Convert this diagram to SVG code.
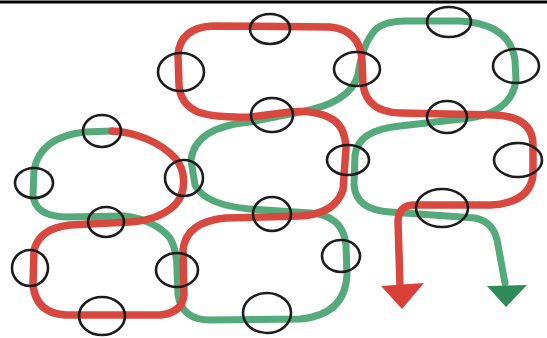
<svg xmlns="http://www.w3.org/2000/svg" width="547" height="338" viewBox="0 0 547 338">
<style>
.red{fill:none;stroke:#d9483f;stroke-width:7.5;stroke-linecap:round;stroke-linejoin:round}
.green{fill:none;stroke:#54aa7a;stroke-width:7;stroke-linecap:round;stroke-linejoin:round}
.ring{fill:none;stroke:#1c1c1c;stroke-width:2.6}
</style>
<rect width="547" height="338" fill="#ffffff"/>
<line x1="0" y1="2" x2="547" y2="2" stroke="#000" stroke-width="3"/>
<g id="connectors">
<path class="green" d="M112,131 L85,132 Q40,137 34,170 L33,195 Q35,216 65,217 L125,216 Q155,220 170,238 Q177,250 177,270 L178,295 Q182,320 210,320 L300,319 Q345,315 347,275 L346,245 Q343,215 310,213 L250,209 Q205,205 195,185 L191,160 Q195,127 250,122 L300,112 Q350,103 358,75 Q362,45 375,30 Q385,20 410,21 L460,21 Q510,24 515,60 L516,80 Q512,112 470,118 L400,126 Q358,130 355,155 L354,185 Q356,210 390,212 L475,218 Q495,222 498,245 L505,283"/>
<path class="red" d="M112,131 C135,132 160,142 175,158 C186,170 187,192 175,205 C163,216 148,221 130,222 L70,225 Q40,228 34,250 L33,285 Q36,313 65,315 L160,315 Q182,313 184,295 L183,250 Q186,222 225,218 L300,216 Q335,214 343,190 L346,148 Q345,125 330,118 Q315,110 290,112 L250,117 Q215,118 198,112 Q180,104 179,85 L178,55 Q180,28 212,26 L330,27 Q360,30 362,60 L363,85 Q367,112 400,113 L495,115 Q533,117 533,145 L533,175 Q530,203 490,205 L415,205 Q398,205 398,222 L400,286"/>
<polygon points="381,286 424,283 402,309" fill="#d9403a"/>
<polygon points="487,286 527,285 506,307" fill="#2f8a5a"/>
</g>
<g id="n1"><ellipse class="ring" cx="270" cy="29" rx="20" ry="15"/></g>
<g id="n2"><ellipse class="ring" cx="181" cy="72" rx="23" ry="19"/></g>
<g id="n3"><ellipse class="ring" cx="357" cy="69" rx="23" ry="17"/></g>
<g id="n4"><ellipse class="ring" cx="449" cy="22" rx="22" ry="15"/></g>
<g id="n5"><ellipse class="ring" cx="516" cy="66" rx="23" ry="17"/></g>
<g id="n6"><ellipse class="ring" cx="272" cy="115" rx="21" ry="17"/></g>
<g id="n7"><ellipse class="ring" cx="102" cy="131" rx="19" ry="16"/></g>
<g id="n8"><ellipse class="ring" cx="34" cy="183" rx="19" ry="15"/></g>
<g id="n9"><ellipse class="ring" cx="184" cy="178" rx="19" ry="18"/></g>
<g id="n10"><ellipse class="ring" cx="348" cy="160" rx="21" ry="15"/></g>
<g id="n11"><ellipse class="ring" cx="447" cy="117" rx="20" ry="16"/></g>
<g id="n12"><ellipse class="ring" cx="518" cy="160" rx="24" ry="17"/></g>
<g id="n13"><ellipse class="ring" cx="106" cy="222" rx="18" ry="15"/></g>
<g id="n14"><ellipse class="ring" cx="272" cy="214" rx="19" ry="17"/></g>
<g id="n15"><ellipse class="ring" cx="442" cy="208" rx="26" ry="19"/></g>
<g id="n16"><ellipse class="ring" cx="30" cy="268" rx="18" ry="18"/></g>
<g id="n17"><ellipse class="ring" cx="177" cy="270" rx="21" ry="17"/></g>
<g id="n18"><ellipse class="ring" cx="341" cy="256" rx="19" ry="16"/></g>
<g id="n19"><ellipse class="ring" cx="102" cy="316" rx="23" ry="19"/></g>
<g id="n20"><ellipse class="ring" cx="267" cy="313" rx="24" ry="20"/></g>
</svg>
